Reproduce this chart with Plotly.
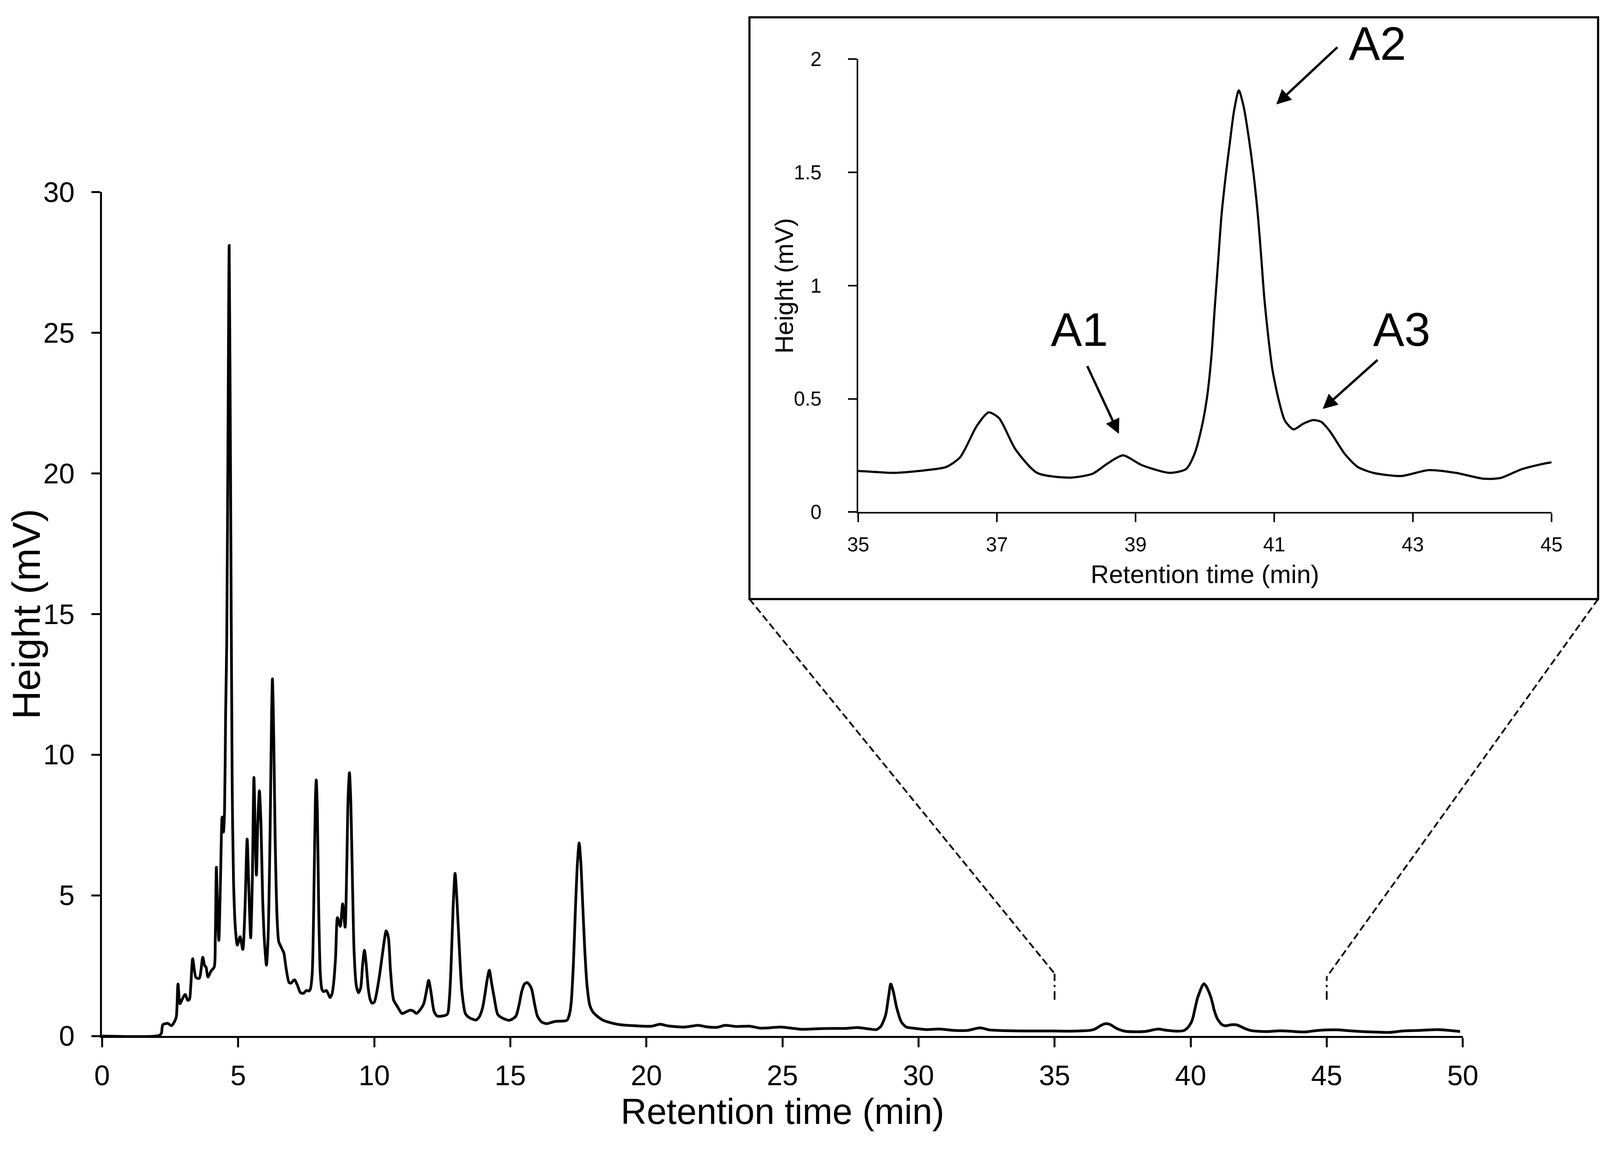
import plotly.graph_objects as go

# chromatogram: retention time (min) and detector height (mV)
retention_time = [
    0.0, 2.1, 2.18, 2.23, 2.41, 2.55, 2.68, 2.73, 2.79, 2.86, 2.92, 2.99, 3.05, 3.15, 3.21, 3.26,
    3.33, 3.45, 3.57, 3.7, 3.77, 3.82, 3.89, 4.01, 4.12, 4.16, 4.2, 4.24, 4.29, 4.35, 4.41, 4.46,
    4.5, 4.54, 4.58, 4.63, 4.67, 4.72, 4.78, 4.83, 4.9, 4.97, 5.07, 5.17, 5.25, 5.33, 5.4, 5.46,
    5.52, 5.58, 5.63, 5.67, 5.72, 5.78, 5.84, 5.9, 5.97, 6.04, 6.1, 6.17, 6.23, 6.26, 6.31, 6.36,
    6.43, 6.49, 6.56, 6.63, 6.68, 6.76, 6.87, 6.94, 7.07, 7.18, 7.29, 7.4, 7.51, 7.6, 7.65, 7.72,
    7.78, 7.84, 7.87, 7.91, 7.96, 8.02, 8.08, 8.14, 8.24, 8.31, 8.38, 8.45, 8.51, 8.58, 8.65, 8.75,
    8.84, 8.93, 8.99, 9.04, 9.09, 9.14, 9.2, 9.26, 9.34, 9.42, 9.5, 9.57, 9.64, 9.7, 9.78, 9.85,
    9.92, 10.0, 10.17, 10.3, 10.44, 10.52, 10.6, 10.71, 10.85, 11.02, 11.15, 11.33, 11.45, 11.55,
    11.7, 11.82, 11.92, 12.0, 12.08, 12.2, 12.3, 12.4, 12.68, 12.76, 12.82, 12.9, 12.97, 13.03,
    13.13, 13.22, 13.35, 13.5, 13.74, 13.87, 13.98, 14.06, 14.15, 14.23, 14.31, 14.41, 14.54,
    14.73, 14.97, 15.2, 15.32, 15.42, 15.52, 15.62, 15.72, 15.79, 15.9, 16.0, 16.15, 16.33, 16.5,
    16.65, 17.08, 17.18, 17.24, 17.32, 17.4, 17.47, 17.53, 17.59, 17.66, 17.74, 17.82, 17.92,
    18.04, 18.2, 18.41, 18.7, 18.99, 19.5, 20.2, 20.5, 20.8, 21.4, 21.9, 22.2, 22.6, 22.9, 23.3,
    23.8, 24.2, 24.95, 25.7, 26.3, 26.8, 27.3, 27.77, 28.2, 28.46, 28.62, 28.79, 28.9, 28.98,
    29.07, 29.2, 29.37, 29.55, 29.8, 30.3, 30.76, 31.3, 31.8, 32.26, 32.6, 32.9, 33.9, 34.5,
    35.0, 35.52, 35.99, 36.27, 36.47, 36.71, 36.88, 37.03, 37.27, 37.58, 38.06, 38.38, 38.6,
    38.82, 39.09, 39.49, 39.73, 39.85, 39.955, 40.033, 40.098, 40.14, 40.19, 40.24, 40.307,
    40.36, 40.42, 40.49, 40.56, 40.63, 40.7, 40.765, 40.817, 40.856, 40.909, 40.974, 41.066,
    41.157, 41.28, 41.42, 41.56, 41.68, 41.8, 42.02, 42.2, 42.43, 42.83,
    43.23, 43.62, 44.02, 44.26, 44.58, 45.0,
    45.4, 45.8, 46.3, 46.8, 47.3, 47.8, 48.4, 49.08, 49.5, 49.9,
]
height_mv = [
    0.0, 0.02, 0.1, 0.4, 0.45, 0.37, 0.55, 0.7, 1.85, 1.15, 1.25, 1.4, 1.48, 1.27, 1.3, 1.8,
    2.75, 2.08, 2.05, 2.8, 2.5, 2.45, 2.1, 2.32, 2.45, 3.5, 6.0, 4.5, 3.4, 5.5, 7.78, 7.25,
    8.0, 11.5, 14.0, 22.0, 28.1, 20.0, 9.0, 5.5, 3.8, 3.23, 3.53, 3.08, 4.5, 7.0, 5.0, 3.49,
    5.5, 9.19, 7.0, 5.72, 7.5, 8.72, 7.5, 4.9, 3.3, 2.52, 3.5, 7.0, 11.5, 12.7, 10.5, 7.0,
    4.2, 3.36, 3.2, 3.06, 2.95, 2.42, 1.9, 1.88, 2.0, 1.8, 1.54, 1.52, 1.62, 1.6, 1.66, 2.2,
    4.8, 8.5, 9.1, 8.0, 4.5, 2.2, 1.65, 1.58, 1.62, 1.5, 1.37, 1.5, 1.9, 2.8, 4.21, 3.9,
    4.7, 3.87, 6.0, 8.5, 9.36, 8.3, 5.5, 3.0, 1.8, 1.54, 1.7, 2.5, 3.05, 2.6, 1.7, 1.3,
    1.17, 1.2, 2.0, 2.9, 3.74, 3.5, 2.3, 1.29, 1.05, 0.8, 0.85, 0.92, 0.88, 0.8,
    0.95, 1.15, 1.6, 1.98, 1.6, 0.87, 0.72, 0.7, 0.77, 1.3, 2.4, 4.6, 5.78, 5.0,
    3.07, 1.6, 0.8, 0.65, 0.57, 0.7, 1.0, 1.43, 2.0, 2.34, 1.9, 1.36, 0.77,
    0.63, 0.56, 0.7, 1.1, 1.58, 1.85, 1.9, 1.8, 1.65, 1.1, 0.7, 0.5, 0.44, 0.48,
    0.52, 0.56, 0.8, 1.21, 2.6, 4.7, 6.2, 6.86, 6.2, 4.7, 3.0, 1.8, 1.1,
    0.85, 0.7, 0.56, 0.47, 0.41, 0.37, 0.35, 0.42, 0.36, 0.32, 0.38, 0.33, 0.31, 0.38, 0.34,
    0.35, 0.28, 0.32, 0.24, 0.26, 0.27, 0.27, 0.3, 0.25, 0.23, 0.35, 0.74, 1.4, 1.85,
    1.6, 1.0, 0.5, 0.32, 0.28, 0.23, 0.25, 0.2, 0.2, 0.29, 0.22, 0.2, 0.18, 0.18,
    0.181, 0.173, 0.185, 0.199, 0.242, 0.38, 0.44, 0.415, 0.276, 0.173, 0.152, 0.169, 0.215,
    0.25, 0.207, 0.173, 0.19, 0.256, 0.375, 0.51, 0.70, 0.89, 1.10, 1.31, 1.50,
    1.63, 1.77, 1.862, 1.79, 1.66, 1.50, 1.31, 1.11, 0.95, 0.79, 0.63, 0.494,
    0.402, 0.365, 0.39, 0.406, 0.398, 0.358, 0.256, 0.2, 0.173, 0.159,
    0.185, 0.173, 0.147, 0.15, 0.19, 0.219,
    0.22, 0.19, 0.16, 0.14, 0.13, 0.18, 0.2, 0.23, 0.2, 0.16,
]

main_x_ticks = [0, 5, 10, 15, 20, 25, 30, 35, 40, 45, 50]
main_y_ticks = [0, 5, 10, 15, 20, 25, 30]
inset_x_ticks = [35, 37, 39, 41, 43, 45]
inset_y_ticks = [0, 0.5, 1, 1.5, 2]
inset_y_labels = ["0", "0.5", "1", "1.5", "2"]

# peak labels in the zoomed panel
peak_names = ["A1", "A2", "A3"]
peak_text_x = [38.19, 42.49, 42.84]
peak_text_y = [0.806, 2.07, 0.807]
arrow_head_x = [38.76, 41.03, 41.70]
arrow_head_y = [0.345, 1.80, 0.455]
arrow_tail_x = [38.30, 41.92, 42.50]
arrow_tail_y = [0.647, 2.055, 0.674]

zoom_window = [35, 45]

FONT = "Liberation Sans, Arial, sans-serif"
W, H = 4226, 2994

# the photographed page comes out slightly shifted/scaled against the original picture,
# so positions measured on the original (in px) are mapped through this correction
SHIFT_X, SCALE_X = 0.00651, 1.01403
SHIFT_Y, SCALE_Y = 0.01404, 1.00450


def fx(px):
    return (px / W - SHIFT_X) / SCALE_X


def fy(py):
    return 1 - (py / H - SHIFT_Y) / SCALE_Y


main_dx = [fx(268), fx(3858)]
main_dy = [fy(2737), fy(508)]
inset_dx = [fx(2263), fx(4092)]
inset_dy = [fy(1353), fy(157)]
box = dict(x0=fx(1976), x1=fx(4215), y0=fy(1583), y1=min(fy(8), 0.9985))


def inset_paper(t, v):
    px = inset_dx[0] + (t - zoom_window[0]) / (zoom_window[1] - zoom_window[0]) * (inset_dx[1] - inset_dx[0])
    py = inset_dy[0] + v / 2 * (inset_dy[1] - inset_dy[0])
    return px, py


def main_paper(t, v):
    px = main_dx[0] + t / 50 * (main_dx[1] - main_dx[0])
    py = main_dy[0] + v / 30 * (main_dy[1] - main_dy[0])
    return px, py


fig = go.Figure()
fig.add_trace(go.Scatter(x=retention_time, y=height_mv, mode="lines",
                         line=dict(color="black", width=7, shape="spline", smoothing=0.7),
                         showlegend=False, hoverinfo="skip"))
fig.add_trace(go.Scatter(x=retention_time, y=height_mv, mode="lines", xaxis="x2", yaxis="y2",
                         line=dict(color="black", width=5.5, shape="spline", smoothing=0.7),
                         showlegend=False, hoverinfo="skip"))

axis_common = dict(showgrid=False, zeroline=False, showline=True, linecolor="black",
                   ticks="outside", tickcolor="black", mirror=False)

fig.update_layout(
    width=W, height=H,
    margin=dict(l=0, r=0, t=0, b=0),
    paper_bgcolor="white", plot_bgcolor="white",
    font=dict(family=FONT, color="black"),
    xaxis=dict(domain=main_dx, range=[0, 50], tickvals=main_x_ticks, linewidth=5,
               ticklen=24, tickwidth=5, tickfont=dict(size=72), ticklabelstandoff=10,
               **axis_common),
    yaxis=dict(domain=main_dy, range=[0, 30], tickvals=main_y_ticks, linewidth=5,
               ticklen=22, tickwidth=5, tickfont=dict(size=72), ticklabelstandoff=29,
               **axis_common),
    xaxis2=dict(domain=inset_dx, range=zoom_window, tickvals=inset_x_ticks, anchor="y2",
                linewidth=3.5, ticklen=22, tickwidth=3.5, tickfont=dict(size=51),
                ticklabelstandoff=14, **axis_common),
    yaxis2=dict(domain=inset_dy, range=[0, 2], tickvals=inset_y_ticks, ticktext=inset_y_labels,
                anchor="x2", linewidth=3.5, ticklen=22, tickwidth=3.5, tickfont=dict(size=51),
                ticklabelstandoff=58, **axis_common),
)

# axis titles (the main y title sits against the left edge of the page)
fig.add_annotation(text="Height (mV)", xref="paper", yref="paper", x=40 / W,
                   y=(main_dy[0] + main_dy[1]) / 2, textangle=-90, showarrow=False,
                   xanchor="center", yanchor="middle", font=dict(size=101))
fig.add_annotation(text="Retention time (min)", xref="paper", yref="paper",
                   x=(main_dx[0] + main_dx[1]) / 2, y=fy(2936), showarrow=False,
                   xanchor="center", yanchor="middle", font=dict(size=92))
fig.add_annotation(text="Height (mV)", xref="paper", yref="paper", x=fx(2068),
                   y=(inset_dy[0] + inset_dy[1]) / 2, textangle=-90, showarrow=False,
                   xanchor="center", yanchor="middle", font=dict(size=65))
fig.add_annotation(text="Retention time (min)", xref="paper", yref="paper",
                   x=(inset_dx[0] + inset_dx[1]) / 2, y=fy(1517), showarrow=False,
                   xanchor="center", yanchor="middle", font=dict(size=65))

# peak labels and arrows
for name, tx, ty, hx, hy, ax, ay in zip(peak_names, peak_text_x, peak_text_y,
                                        arrow_head_x, arrow_head_y, arrow_tail_x, arrow_tail_y):
    lx, ly = inset_paper(tx, ty)
    fig.add_annotation(text=name, x=lx, y=ly, xref="paper", yref="paper", showarrow=False,
                       xanchor="center", yanchor="middle", font=dict(size=120))
    fig.add_annotation(text="", x=hx, y=hy, xref="x2", yref="y2", ax=ax, ay=ay,
                       axref="x2", ayref="y2", showarrow=True, arrowhead=2,
                       arrowsize=1.25, arrowwidth=6, arrowcolor="black",
                       standoff=0, startstandoff=0)

# inset frame
fig.add_shape(type="rect", xref="paper", yref="paper", line=dict(color="black", width=5.5),
              fillcolor="rgba(0,0,0,0)", **box)

# dashed guides from the zoom window on the main trace up to the inset frame
guide_top = [2.22, 2.10]
guide_bottom = 1.29
for t, top, corner_x in zip(zoom_window, guide_top, [box["x0"], box["x1"]]):
    px, py = main_paper(t, top)
    fig.add_shape(type="line", xref="paper", yref="paper", x0=corner_x, y0=box["y0"],
                  x1=px, y1=py, line=dict(color="black", width=4.5, dash="18px,9px"))
    fig.add_shape(type="line", xref="x", yref="y", x0=t, x1=t, y0=guide_bottom, y1=top,
                  line=dict(color="black", width=4.5, dash="22px,10px,6px,10px"))

fig.write_html("out.html", config={"displayModeBar": False},
               post_script="document.body.style.margin='0';document.body.style.overflow='hidden';")
